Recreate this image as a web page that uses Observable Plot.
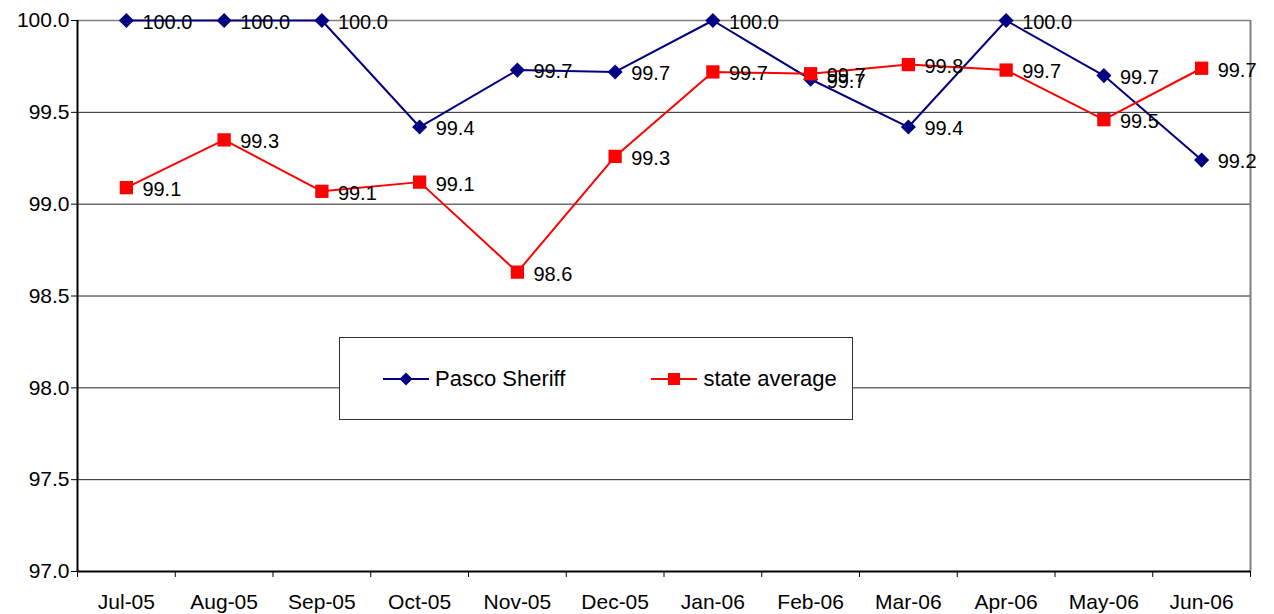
<!DOCTYPE html>
<html><head><meta charset="utf-8">
<script src="https://cdn.jsdelivr.net/npm/d3@7"></script>
<script src="https://cdn.jsdelivr.net/npm/@observablehq/plot@0.6"></script>
<style>
body{margin:0;background:#fff;font-family:"Liberation Sans",Arial,sans-serif;}
#wrap{position:relative;width:1274px;height:614px;overflow:hidden;}
#legend{position:absolute;left:339px;top:337px;width:514px;height:83px;box-sizing:border-box;border:1px solid #333;background:#fff;display:flex;align-items:center;padding-left:43px;font-size:22px;color:#000;}
.item{display:flex;align-items:center;}
.item svg{display:block;margin-right:6px;}
</style>
</head><body>
<div id="wrap"></div>
<script>
const months = ["Jul-05","Aug-05","Sep-05","Oct-05","Nov-05","Dec-05","Jan-06","Feb-06","Mar-06","Apr-06","May-06","Jun-06"];
const pasco = [100.0,100.0,100.0,99.42,99.73,99.72,100.0,99.68,99.42,100.0,99.70,99.24];
const stateAvg = [99.09,99.35,99.07,99.12,98.63,99.26,99.72,99.71,99.76,99.73,99.46,99.74];
const yTicks = [97.0,97.5,98.0,98.5,99.0,99.5,100.0];
const seriesNames = ["Pasco Sheriff","state average"];
const seriesColors = ["#000080","#ff0000"];

const rows = months.map((m,i)=>({i, month:m, pasco:pasco[i], state:stateAvg[i]}));
const centers = months.map((m,i)=>i);
const bounds = d3.range(months.length+1).map(i=>i-0.5);

const chart = Plot.plot({
  width:1274, height:614,
  marginLeft:77, marginRight:24, marginTop:20, marginBottom:43,
  style:{fontFamily:"'Liberation Sans', Arial, sans-serif", background:"#fff", color:"#000", overflow:"visible"},
  x:{type:"linear", domain:[-0.5, months.length-0.5], axis:null, label:null},
  y:{domain:[97,100], axis:null, label:null},
  marks:[
    Plot.ruleY(yTicks.filter(v=>v<100), {stroke:"#222", strokeWidth:1}),
    Plot.ruleY([100], {stroke:"#808080", strokeWidth:1.5}),
    Plot.ruleX([months.length-0.5], {stroke:"#808080", strokeWidth:2}),
    Plot.axisY({ticks:yTicks, tickFormat:d=>d.toFixed(1), tickSize:6, tickPadding:2, fontSize:21, label:null}),
    Plot.axisX({ticks:bounds, tickSize:6, tickFormat:()=>"", label:null}),
    Plot.axisX({ticks:centers, tickSize:0, tickPadding:23, fontSize:21, tickFormat:i=>months[i], label:null}),
    Plot.ruleX([-0.5], {stroke:"#000", strokeWidth:2}),
    Plot.ruleY([97], {stroke:"#000", strokeWidth:2}),
    Plot.line(rows, {x:"i", y:"pasco", stroke:seriesColors[0], strokeWidth:2}),
    Plot.dot(rows, {x:"i", y:"pasco", symbol:"diamond2", r:6.8, fill:seriesColors[0], stroke:"none"}),
    Plot.line(rows, {x:"i", y:"state", stroke:seriesColors[1], strokeWidth:2}),
    Plot.dot(rows, {x:"i", y:"state", symbol:"square", r:7.5, fill:seriesColors[1], stroke:"none"}),
    Plot.text(rows, {x:"i", y:"pasco", text:d=>d.pasco.toFixed(1), dx:16, dy:2, textAnchor:"start", fontSize:20, fill:"#000"}),
    Plot.text(rows, {x:"i", y:"state", text:d=>d.state.toFixed(1), dx:16, dy:2, textAnchor:"start", fontSize:20, fill:"#000"})
  ]
});
const wrap = document.getElementById("wrap");
wrap.appendChild(chart);

const legend = document.createElement("div");
legend.id = "legend";
const sym = [
  '<path d="M23,1.5 L29.5,8 L23,14.5 L16.5,8 Z" fill="'+seriesColors[0]+'"/>',
  '<rect x="17" y="2" width="12" height="12" fill="'+seriesColors[1]+'"/>'
];
legend.innerHTML = seriesNames.map((n,k)=>
  '<div class="item" style="margin-right:'+(k===0?86:0)+'px"><svg width="46" height="16"><line x1="0" y1="8" x2="46" y2="8" stroke="'+seriesColors[k]+'" stroke-width="2"/>'+sym[k]+'</svg><span>'+n+'</span></div>'
).join("");
wrap.appendChild(legend);
</script>
</body></html>
